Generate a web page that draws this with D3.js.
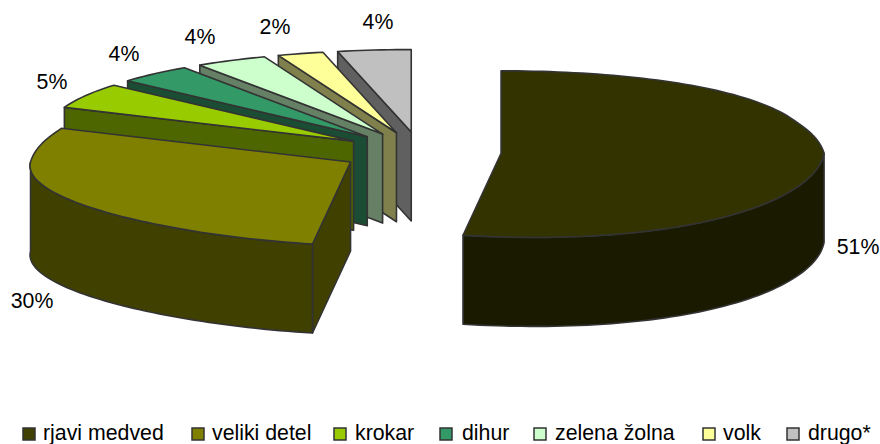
<!DOCTYPE html>
<html><head><meta charset="utf-8">
<style>html,body{margin:0;padding:0;background:#fff}svg{display:block}text{font-family:"Liberation Sans",Arial,sans-serif;font-size:21.3px;fill:#000}</style>
<script src="https://cdnjs.cloudflare.com/ajax/libs/d3/7.8.5/d3.min.js"></script>
</head><body><svg id="c" width="880" height="444"></svg>
<script>
const categories=["rjavi medved","veliki detel","krokar","dihur","zelena žolna","volk","drugo*"];
const values=[51,30,5,4,3.8,2.4,3.8];
const topColors=["#333300","#808000","#99cc00","#339966","#ccffcc","#ffff99","#c0c0c0"];
const sideColors=["#1a1a00","#404000","#4d6600","#1a4d33","#668066","#80804d","#606060"];
const labelAnchors=[[858,254],[32,308],[52,89],[124,61],[200,44],[275,34],[378,29]];
const legendSwatchX=[23,192,334,440,534,703,787];
const legendTextX=[43,212,355,462,555,723,808];
const fmtPct=d3.format(".0f");

// projection of the pie plane
const center=[420.5,152.5],explode=0.25,depth=89,R=320;
const rad=d=>d*Math.PI/180;
function P(a){
  const u=Math.sin(a),v=Math.cos(a);
  const r=u>0?323:R;
  if(v>=0) return [r*u*(1-0.028*Math.min(1,v*3)),-97*v*(1-0.15*v)];
  const w=-v; return [r*u-18*w,83*w+14*u*w];
}
const arcs=d3.pie().sort(null).value(d=>d)(values);
const svg=d3.select("#c");
const line=d3.line();
const stroke="#333333",sw=1.6;
function apex(d){const p=P((d.startAngle+d.endAngle)/2);return [center[0]+explode*p[0],center[1]+explode*p[1]];}
function pt(d,a,dz=0){const A=apex(d),p=P(a);return [A[0]+p[0],A[1]+p[1]+dz];}
function arcPts(d,a0,a1,dz=0){const n=Math.max(2,Math.ceil(Math.abs(a1-a0)/rad(1.5)));return d3.range(n+1).map(i=>pt(d,a0+(a1-a0)*i/n,dz));}
function poly(pts,fill){svg.append("path").attr("d",line(pts)+"Z").attr("fill",fill).attr("stroke",stroke).attr("stroke-width",sw).attr("stroke-linejoin","round");}

function drawSlice(i){
  const d=arcs[i],A=apex(d),a0=d.startAngle,a1=d.endAngle;
  const side=sideColors[i];
  if(a0>Math.PI){
    const s=pt(d,a0);
    poly([A,s,[s[0],s[1]+depth],[A[0],A[1]+depth]],side);
  }
  const w0=Math.max(a0,Math.PI/2),w1=Math.min(a1,Math.PI*1.5);
  if(w1>w0) poly(arcPts(d,w0,w1).concat(arcPts(d,w1,w0,depth)),side);
  poly([A].concat(arcPts(d,a0,a1)),topColors[i]);
}
[6,5,4,3,2,1,0].forEach(drawSlice);

svg.selectAll("text.lab").data(values).join("text").attr("class","lab")
  .attr("text-anchor","middle")
  .attr("x",(d,i)=>labelAnchors[i][0]).attr("y",(d,i)=>labelAnchors[i][1])
  .text(d=>fmtPct(d)+"%");

const lg=svg.selectAll("g.lg").data(categories).join("g").attr("class","lg");
lg.append("rect").attr("x",(d,i)=>legendSwatchX[i]).attr("y",428).attr("width",12).attr("height",12)
  .attr("fill",(d,i)=>i===0?"#404000":topColors[i]).attr("stroke",stroke).attr("stroke-width",1.5);
lg.append("text").attr("x",(d,i)=>legendTextX[i]).attr("y",440).text(d=>d);
</script></body></html>
